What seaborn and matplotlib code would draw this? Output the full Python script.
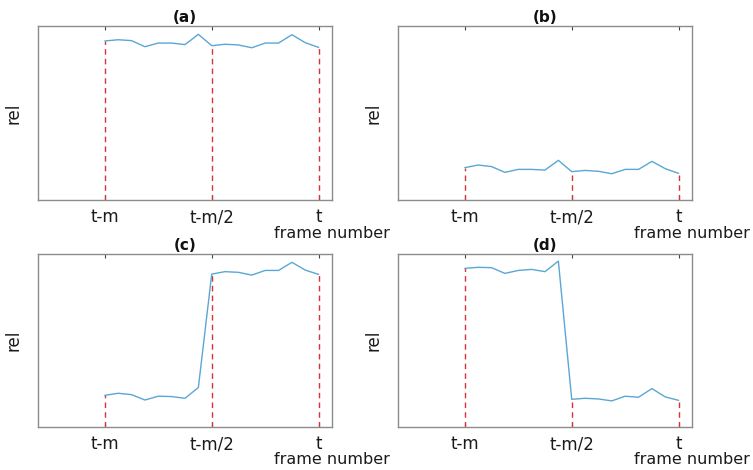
import numpy as np
import pandas as pd
import matplotlib
matplotlib.use("Agg")
import matplotlib.pyplot as plt
import seaborn as sns

frames = list(range(17))
tick_pos = [0, 8, 16]
tick_labels = ["t-m", "t-m/2", "t"]

rel_a = [0.914, 0.921, 0.916, 0.881, 0.902, 0.902, 0.893, 0.952, 0.887,
         0.895, 0.891, 0.875, 0.902, 0.902, 0.950, 0.904, 0.877]
rel_b = [0.186, 0.201, 0.192, 0.159, 0.176, 0.176, 0.172, 0.228, 0.163,
         0.170, 0.165, 0.151, 0.176, 0.176, 0.222, 0.180, 0.153]
rel_c = [0.183, 0.195, 0.187, 0.156, 0.178, 0.176, 0.166, 0.228, 0.884,
         0.898, 0.894, 0.878, 0.905, 0.905, 0.952, 0.907, 0.882]
rel_d = [0.917, 0.923, 0.921, 0.888, 0.905, 0.911, 0.898, 0.959, 0.160,
         0.166, 0.162, 0.151, 0.178, 0.172, 0.222, 0.174, 0.154]

titles = ["(a)", "(b)", "(c)", "(d)"]
series = [rel_a, rel_b, rel_c, rel_d]

sns.set_style("white")
plt.rcParams['font.family'] = ['DejaVu Sans']
plt.rcParams['text.color'] = '#1a1a1a'
plt.rcParams['axes.labelcolor'] = '#1a1a1a'
plt.rcParams['xtick.labelcolor'] = '#1a1a1a'

W, H = 753, 470
fig = plt.figure(figsize=(W / 100, H / 100), dpi=100)

boxes = [(38, 26, 332, 200), (398, 26, 692, 200),
         (38, 254, 332, 427), (398, 254, 692, 427)]

line_color = "#5aa7d4"
red = "#d8313a"
spine_color = "#8c8c8c"

for title, vals, (l, t, r, b) in zip(titles, series, boxes):
    ax = fig.add_axes([l / W, (H - b) / H, (r - l) / W, (b - t) / H])
    df = pd.DataFrame({"frame": frames, "rel": vals})
    for p in tick_pos:
        ax.vlines(p, 0, vals[p], colors=red, linestyles=(0, (4, 3)), linewidth=1.0, zorder=1)
    sns.lineplot(data=df, x="frame", y="rel", ax=ax, color=line_color, linewidth=1.0, zorder=2)
    ax.set_xlim(-5, 17)
    ax.set_ylim(0, 1)
    ax.set_xticks(tick_pos)
    ax.set_xticklabels(tick_labels, fontsize=12)
    ax.set_yticks([])
    ax.tick_params(axis='x', direction='in', top=True, bottom=True, length=3,
                   width=0.8, color="#444444", pad=6)
    for s in ax.spines.values():
        s.set_color(spine_color)
        s.set_linewidth(1.0)
    ax.set_xlabel("")
    ax.set_ylabel("rel", fontsize=12)
    ax.yaxis.set_label_coords(-16 / (r - l), 0.5)
    ax.set_title(title, fontsize=11, fontweight='bold', pad=3, color='#111111')
    ax.text(1.0, -33 / (b - t), "frame number", transform=ax.transAxes,
            ha='center', va='center', fontsize=11.5)

fig.savefig("out.png", dpi=100)
